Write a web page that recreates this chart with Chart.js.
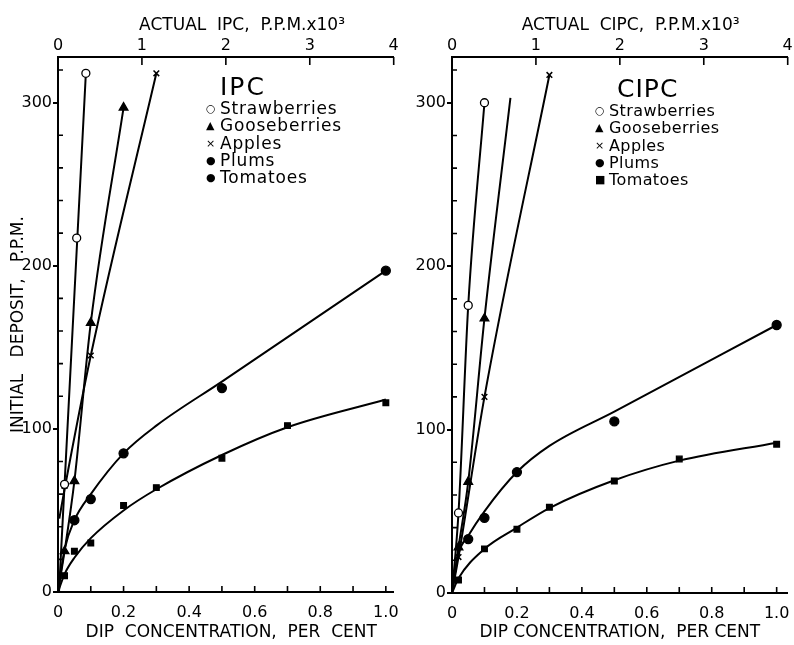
<!DOCTYPE html>
<html><head><meta charset="utf-8">
<script src="https://cdn.jsdelivr.net/npm/chart.js@4.4.0/dist/chart.umd.min.js"></script>
<style>
html,body{margin:0;padding:0;background:#fff;}
body{width:794px;height:645px;position:relative;overflow:hidden;font-family:"DejaVu Sans",sans-serif;color:#000;}
#c1{position:absolute;left:0;top:0;}
#c2{position:absolute;left:400px;top:0;}
.lg{position:absolute;white-space:nowrap;}
.lg .ttl{font-size:25px;letter-spacing:2px;line-height:26px;height:26px;}
.lg .row{height:17.3px;line-height:17.3px;}
.lg .mk{display:inline-block;width:14px;font-size:11px;text-align:left;vertical-align:top;}
#lg1 .row{font-size:17px;letter-spacing:0.8px;}
#lg2 .row{font-size:16px;letter-spacing:0.4px;}
#lg2 .ttl{letter-spacing:1px;}
</style></head>
<body>
<canvas id="c1" width="400" height="645"></canvas>
<canvas id="c2" width="394" height="645"></canvas>
<div class="lg" id="lg1" style="left:206px;top:74px;"></div>
<div class="lg" id="lg2" style="left:595px;top:76px;"></div>
<script>
// ---------- data ----------
// IPC panel: measured points (markers)
const ipcStrawX = [0.02, 0.057, 0.085], ipcStrawY = [66, 217, 318];
const ipcGooseX = [0.02, 0.05, 0.1, 0.2], ipcGooseY = [25, 68, 165, 297];
const ipcAppleX = [0.02, 0.1, 0.3], ipcAppleY = [65, 145, 318];
const ipcPlumX = [0.05, 0.1, 0.2, 0.5, 1.0], ipcPlumY = [44, 57, 85, 125, 197];
const ipcTomX = [0.02, 0.05, 0.1, 0.2, 0.3, 0.5, 0.7, 1.0], ipcTomY = [10, 25, 30, 53, 64, 82, 102, 116];
// IPC panel: hand-drawn fitted curves
const ipcStrawCurveX = [0.003, 0.085], ipcStrawCurveY = [0, 318];
const ipcGooseCurveX = [0, 0.02, 0.05, 0.1, 0.2], ipcGooseCurveY = [0, 25, 68, 165, 297];
const ipcAppleCurveX = [0.004, 0.02, 0.1, 0.3], ipcAppleCurveY = [45, 63, 145, 318];
const ipcPlumCurveX = [0, 0.02, 0.05, 0.1, 0.2, 0.3, 0.5, 1.0], ipcPlumCurveY = [0, 26, 44, 60, 85, 102, 129, 197];
const ipcTomCurveX = [0, 0.02, 0.05, 0.1, 0.2, 0.3, 0.5, 0.7, 1.0], ipcTomCurveY = [0, 11, 21, 33, 50, 63, 84, 101, 118];
// CIPC panel: measured points (markers)
const cipcStrawX = [0.02, 0.05, 0.1], cipcStrawY = [49, 176, 300];
const cipcGooseX = [0.02, 0.05, 0.1], cipcGooseY = [28, 68, 168];
const cipcAppleX = [0.02, 0.1, 0.3], cipcAppleY = [22, 120, 317];
const cipcPlumX = [0.05, 0.1, 0.2, 0.5, 1.0], cipcPlumY = [33, 46, 74, 105, 164];
const cipcTomX = [0.02, 0.1, 0.2, 0.3, 0.5, 0.7, 1.0], cipcTomY = [8, 27, 39, 52.5, 68.6, 82, 91];
// CIPC panel: drawn curves
const cipcStrawCurveX = [0, 0.02, 0.05, 0.1], cipcStrawCurveY = [0, 49, 176, 300];
const cipcGooseCurveX = [0, 0.02, 0.05, 0.1, 0.18], cipcGooseCurveY = [0, 28, 68, 168, 303];
const cipcAppleCurveX = [0, 0.02, 0.1, 0.3], cipcAppleCurveY = [0, 22, 120, 317];
const cipcPlumCurveX = [0, 0.02, 0.05, 0.1, 0.2, 0.3, 0.5, 1.0], cipcPlumCurveY = [0, 24, 35, 50, 74, 90, 111, 164];
const cipcTomCurveX = [0, 0.02, 0.1, 0.2, 0.3, 0.5, 0.7, 1.0], cipcTomCurveY = [0, 9, 27, 40, 52, 69, 81, 92];

const seriesNames = ['Strawberries', 'Gooseberries', 'Apples', 'Plums', 'Tomatoes'];
const ipcGlyphs = ['\u25CB', '\u25B2', '\u00D7', '\u25CF', '\u25CF'];
const cipcGlyphs = ['\u25CB', '\u25B2', '\u00D7', '\u25CF', '\u25A0'];

const bottomTickValues = [0, 0.2, 0.4, 0.6, 0.8, 1.0];
const bottomTickLabels = ['0', '0.2', '0.4', '0.6', '0.8', '1.0'];
const bottomMinorTicks = [0.1, 0.2, 0.3, 0.4, 0.5, 0.6, 0.7, 0.8, 0.9, 1.0];
const topTickValues = [0, 1, 2, 3, 4];
const topTickLabels = ['0', '1', '2', '3', '4'];
const topMinorTicks = [1, 2, 3, 4];
const yTickValues = [0, 100, 200, 300];
const yTickLabels = ['0', '100', '200', '300'];
const yMinorTicks = [20, 40, 60, 80, 120, 140, 160, 180, 220, 240, 260, 280, 320];

// ---------- styles ----------
const markerStyles = [
  {pointStyle: 'circle', radius: 4, bg: '#fff'},
  {pointStyle: 'triangle', radius: 5, bg: '#000'},
  {pointStyle: 'crossRot', radius: 4, bg: '#000'},
  {pointStyle: 'circle', radius: 4.5, bg: '#000'},
  {pointStyle: 'rect', radius: 4, bg: '#000'}
];
const tickFont = {family: 'DejaVu Sans', size: 16};
const titleFont = {family: 'DejaVu Sans', size: 17};

function pts(xs, ys) { return xs.map((x, i) => ({x: x, y: ys[i]})); }

function buildSets(list) {
  const sets = [];
  list.forEach((s, k) => {
    const st = markerStyles[k];
    sets.push({type: 'line', data: pts(s.cx, s.cy), borderColor: '#000', borderWidth: 2,
      pointRadius: 0, cubicInterpolationMode: 'monotone', fill: false, order: 2});
    sets.push({type: 'scatter', data: pts(s.xs, s.ys), pointStyle: st.pointStyle,
      pointRadius: st.radius, backgroundColor: st.bg, borderColor: '#000',
      borderWidth: st.pointStyle === 'crossRot' ? 1.5 : 1.3, order: 1});
  });
  return sets;
}

const innerTicks = {
  id: 'innerTicks',
  afterDraw(chart) {
    const {ctx, chartArea: a, scales} = chart;
    ctx.save();
    ctx.strokeStyle = '#000';
    ctx.lineWidth = 1.6;
    ctx.beginPath();
    bottomMinorTicks.forEach(v => {
      const p = scales.x.getPixelForValue(v);
      ctx.moveTo(p, a.bottom); ctx.lineTo(p, a.bottom - 6);
    });
    topMinorTicks.forEach(v => {
      const p = scales.x2.getPixelForValue(v);
      ctx.moveTo(p, a.top); ctx.lineTo(p, a.top + 8);
    });
    yMinorTicks.forEach(v => {
      const p = scales.y.getPixelForValue(v);
      ctx.moveTo(a.left, p); ctx.lineTo(a.left + 5, p);
    });
    ctx.stroke();
    ctx.restore();
  }
};

function noPad(s) { s.paddingLeft = 0; s.paddingRight = 0; s.paddingTop = 0; s.paddingBottom = 0; }

function makeChart(id, sets, opt) {
  return new Chart(document.getElementById(id), {
    type: 'scatter',
    data: {datasets: sets},
    plugins: [innerTicks],
    options: {
      responsive: false, animation: false, events: [],
      layout: {padding: {left: 0, right: opt.padRight, top: 0, bottom: 0}},
      plugins: {legend: {display: false}, tooltip: {enabled: false}},
      scales: {
        x: {
          type: 'linear', position: 'bottom', min: 0, max: opt.xMax,
          afterFit: s => { s.height = opt.bottomH; noPad(s); },
          afterBuildTicks: s => { s.ticks = bottomTickValues.map(v => ({value: v})); },
          ticks: {font: tickFont, color: '#000', padding: 11, maxRotation: 0, autoSkip: false,
            callback: v => bottomTickLabels[bottomTickValues.indexOf(v)]},
          grid: {display: false, drawTicks: false},
          border: {display: true, color: '#000', width: 2},
          title: {display: true, text: opt.bottomTitle, font: titleFont, color: '#000',
            padding: {top: 0, bottom: 2}}
        },
        x2: {
          type: 'linear', position: 'top', min: 0, max: 4,
          afterFit: s => { s.height = opt.topH; noPad(s); },
          afterBuildTicks: s => { s.ticks = topTickValues.map(v => ({value: v})); },
          ticks: {font: tickFont, color: '#000', padding: 2, maxRotation: 0, autoSkip: false,
            callback: v => topTickLabels[topTickValues.indexOf(v)]},
          grid: {display: false, drawTicks: false},
          border: {display: true, color: '#000', width: 2},
          title: {display: true, text: opt.topTitle, font: titleFont, color: '#000',
            padding: {top: 15, bottom: 0}}
        },
        y: {
          type: 'linear', position: 'left', min: 0, max: 328,
          afterFit: s => { s.width = opt.leftW; noPad(s); },
          afterBuildTicks: s => { s.ticks = yTickValues.map(v => ({value: v})); },
          ticks: {font: tickFont, color: '#000', padding: 1,
            callback: v => yTickLabels[yTickValues.indexOf(v)]},
          grid: {display: true, drawOnChartArea: false, drawTicks: true, tickLength: 5,
            color: '#000', lineWidth: 2},
          border: {display: true, color: '#000', width: 2},
          title: {display: opt.yTitle !== '', text: opt.yTitle, font: titleFont, color: '#000',
            padding: {top: 8, bottom: 0}}
        }
      }
    }
  });
}

makeChart('c1', buildSets([
  {xs: ipcStrawX, ys: ipcStrawY, cx: ipcStrawCurveX, cy: ipcStrawCurveY},
  {xs: ipcGooseX, ys: ipcGooseY, cx: ipcGooseCurveX, cy: ipcGooseCurveY},
  {xs: ipcAppleX, ys: ipcAppleY, cx: ipcAppleCurveX, cy: ipcAppleCurveY},
  {xs: ipcPlumX, ys: ipcPlumY, cx: ipcPlumCurveX, cy: ipcPlumCurveY},
  {xs: ipcTomX, ys: ipcTomY, cx: ipcTomCurveX, cy: ipcTomCurveY}
]), {xMax: 1.024, padRight: 5, leftW: 58, topH: 57, bottomH: 53,
   topTitle: '      ACTUAL  IPC,  P.P.M.x10\u00B3',
   bottomTitle: '  DIP  CONCENTRATION,  PER  CENT',
   yTitle: 'INITIAL   DEPOSIT,   P.P.M.'});

makeChart('c2', buildSets([
  {xs: cipcStrawX, ys: cipcStrawY, cx: cipcStrawCurveX, cy: cipcStrawCurveY},
  {xs: cipcGooseX, ys: cipcGooseY, cx: cipcGooseCurveX, cy: cipcGooseCurveY},
  {xs: cipcAppleX, ys: cipcAppleY, cx: cipcAppleCurveX, cy: cipcAppleCurveY},
  {xs: cipcPlumX, ys: cipcPlumY, cx: cipcPlumCurveX, cy: cipcPlumCurveY},
  {xs: cipcTomX, ys: cipcTomY, cx: cipcTomCurveX, cy: cipcTomCurveY}
]), {xMax: 1.034, padRight: 3, leftW: 52, topH: 57, bottomH: 52,
   topTitle: '    ACTUAL  CIPC,  P.P.M.x10\u00B3',
   bottomTitle: 'DIP CONCENTRATION,  PER CENT',
   yTitle: ''});

function buildLegend(id, title, glyphs, indent) {
  const el = document.getElementById(id);
  let html = '<div class="ttl" style="padding-left:' + indent + 'px">' + title + '</div>';
  seriesNames.forEach((n, i) => {
    html += '<div class="row"><span class="mk">' + glyphs[i] + '</span>' + n + '</div>';
  });
  el.innerHTML = html;
}
buildLegend('lg1', 'IPC', ipcGlyphs, 14);
buildLegend('lg2', 'CIPC', cipcGlyphs, 22);
</script>
</body></html>
